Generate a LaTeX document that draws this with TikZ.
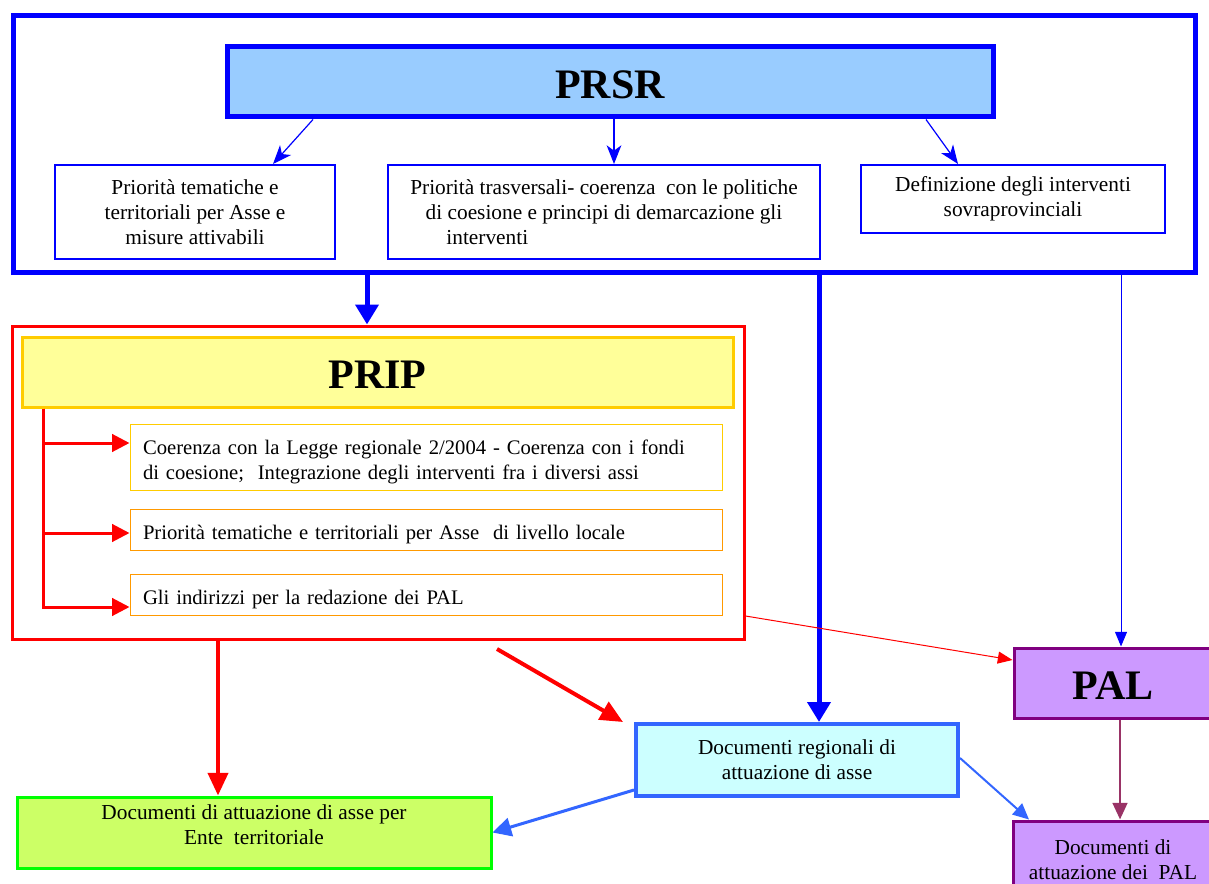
\documentclass[tikz,border=0pt]{standalone}
\usepackage{fontspec}
\setmainfont{Liberation Serif}
\usetikzlibrary{arrows.meta}

\newcommand{\pxu}{0.75pt}
\newcommand{\pcstrut}{\rule{0pt}{18pt}}

\definecolor{pblue}{HTML}{0000FF}
\definecolor{prsrfill}{HTML}{99CCFF}
\definecolor{pripfill}{HTML}{FFFF99}
\definecolor{pripgold}{HTML}{FFCC00}
\definecolor{pcorange}{HTML}{FF9900}
\definecolor{entefill}{HTML}{CCFF66}
\definecolor{entegreen}{HTML}{00FF00}
\definecolor{docfill}{HTML}{CCFFFF}
\definecolor{docblue}{HTML}{3366FF}
\definecolor{palfill}{HTML}{CC99FF}
\definecolor{palpurple}{HTML}{800080}
\definecolor{palarrow}{HTML}{993366}

\tikzset{
  box/.style={draw, rectangle, inner sep=0pt, align=center, font=\fontsize{16}{18.75}\selectfont},
  titlebox/.style={box, text height=25pt, text depth=0pt, font=\fontsize{31.5}{36}\selectfont\bfseries},
  pcbox/.style={box, align=left, text width=566*\pxu, minimum width=592*\pxu, font=\fontsize{15.5}{18.75}\selectfont},
  thinblue/.style={draw=pblue, line width=0.9pt, -{Stealth[length=14pt, width=11pt, inset=4pt]}},
  thickblue/.style={draw=pblue, line width=3.75pt, -{Triangle[length=15pt, width=17pt]}},
  pinblue/.style={draw=pblue, line width=0.75pt, -{Triangle[length=11pt, width=9pt]}},
  redbranch/.style={draw=red, line width=2.25pt, -{Triangle[length=13pt, width=13pt]}},
  thickred/.style={draw=red, line width=3pt, -{Triangle[length=17pt, width=15pt]}},
  thinred/.style={draw=red, line width=0.75pt, -{Triangle[length=11pt, width=9pt]}},
  docarrow/.style={draw=docblue, -{Triangle[length=14pt, width=14pt]}},
  palarr/.style={draw=palarrow, line width=2pt, -{Triangle[length=12.5pt, width=11pt]}}
}

\begin{document}
\begin{tikzpicture}[x=\pxu, y=-\pxu]
  \useasboundingbox (0,0) rectangle (1209,884);

  % PRSR
  \node[box, draw=pblue, line width=3.75pt, minimum width=1182*\pxu, minimum height=256*\pxu] (prsrframe) at (604,144) {};
  \node[titlebox, draw=pblue, fill=prsrfill, line width=3.75pt, minimum width=766*\pxu, minimum height=70*\pxu] (prsr) at (610,82) {PRSR};
  \node[box, draw=pblue, line width=1.5pt, minimum width=280*\pxu, minimum height=94*\pxu] (tema) at (195,212) {Priorità tematiche e\\territoriali per Asse e\\misure attivabili};
  \node[box, draw=pblue, line width=1.5pt, minimum width=432*\pxu, minimum height=94*\pxu] (trasv) at (604,212) {Priorità trasversali- coerenza\ \ con le politiche\\di coesione e principi di demarcazione gli\\interventi\hspace{175pt}\mbox{}};
  \node[box, draw=pblue, line width=1.5pt, minimum width=304*\pxu, minimum height=68*\pxu] (sovra) at (1013,199) {Definizione degli interventi\\sovraprovinciali};

  % PRIP
  \node[box, draw=red, line width=2.25pt, minimum width=732*\pxu, minimum height=313*\pxu] (pripframe) at (378,482.5) {};
  \node[titlebox, draw=pripgold, fill=pripfill, line width=2.25pt, minimum width=711*\pxu, minimum height=70*\pxu] (prip) at (377.5,372) {PRIP};
  \node[pcbox, draw=pripgold, line width=0.75pt, minimum height=66*\pxu] (legge) at (426,457) {\pcstrut Coerenza con la Legge regionale 2/2004 - Coerenza con i fondi\\di coesione;\ \ Integrazione degli interventi fra i diversi assi};
  \node[pcbox, draw=pcorange, line width=0.75pt, minimum height=41*\pxu] (locale) at (426,529.5) {\pcstrut Priorità tematiche e territoriali per Asse\ \ di livello locale};
  \node[pcbox, draw=pcorange, line width=0.75pt, minimum height=41*\pxu] (indir) at (426,594.5) {\pcstrut Gli indirizzi per la redazione dei PAL};

  % Documenti
  \node[box, draw=entegreen, fill=entefill, line width=2.25pt, minimum width=474*\pxu, minimum height=71*\pxu,
    label={[name=entetxt, align=center, anchor=north, yshift=-3pt, font=\fontsize{16}{18.75}\selectfont]north:Documenti di attuazione di asse per\\Ente\ \ territoriale}] (ente) at (254,832.5) {};
  \node[box, draw=docblue, fill=docfill, line width=3pt, minimum width=322*\pxu, minimum height=72*\pxu] (doc) at (797,760) {Documenti regionali di\\attuazione di asse};
  \node[titlebox, draw=palpurple, fill=palfill, line width=2.25pt, minimum width=198*\pxu, minimum height=70*\pxu] (pal) at (1113,683) {PAL};
  \node[box, draw=palpurple, fill=palfill, line width=2.25pt, minimum width=200*\pxu, minimum height=78*\pxu] (docpal) at (1113,860) {Documenti di\\attuazione dei\ \ PAL};

  \coordinate (redtail) at (497,649);

  % Connectors
  \draw[thinblue] ([xshift=-297*\pxu]prsr.south) -- ([xshift=78*\pxu]tema.north);
  \draw[thinblue] ([xshift=4*\pxu]prsr.south) -- ([xshift=10*\pxu]trasv.north);
  \draw[thinblue] ([xshift=316*\pxu]prsr.south) -- ([xshift=-55*\pxu]sovra.north);

  \draw[thickblue] ([xshift=-237*\pxu]prsrframe.south) -- ([xshift=-11*\pxu]pripframe.north);
  \draw[thickblue] ([xshift=215*\pxu]prsrframe.south) -- ([xshift=22*\pxu]doc.north);
  \draw[pinblue] ([xshift=517*\pxu]prsrframe.south) -- ([xshift=8*\pxu]pal.north);

  \draw[redbranch] ([xshift=23*\pxu]prip.south west) |- ([yshift=14*\pxu]legge.west);
  \draw[redbranch] ([xshift=23*\pxu]prip.south west) |- ([yshift=-3.5*\pxu]locale.west);
  \draw[redbranch] ([xshift=23*\pxu]prip.south west) |- ([yshift=-12.5*\pxu]indir.west);

  \draw[thickred] ([xshift=-160*\pxu]pripframe.south) -- ([xshift=-36*\pxu]ente.north);
  \draw[thickred] (redtail) -- ([xshift=-11*\pxu]doc.north west);
  \draw[thinred] ([yshift=-133.5*\pxu]pripframe.east) -- ([yshift=23*\pxu]pal.west);

  \draw[docarrow, line width=2.25pt] ([yshift=-30*\pxu]doc.west) -- (ente.east);
  \draw[docarrow, line width=1.5pt, -{Triangle[length=12pt, width=11pt]}] ([yshift=2*\pxu]doc.east) -- ([xshift=-84*\pxu]docpal.north);
  \draw[palarr] ([xshift=7*\pxu]pal.south) -- ([xshift=7*\pxu]docpal.north);
\end{tikzpicture}
\end{document}
